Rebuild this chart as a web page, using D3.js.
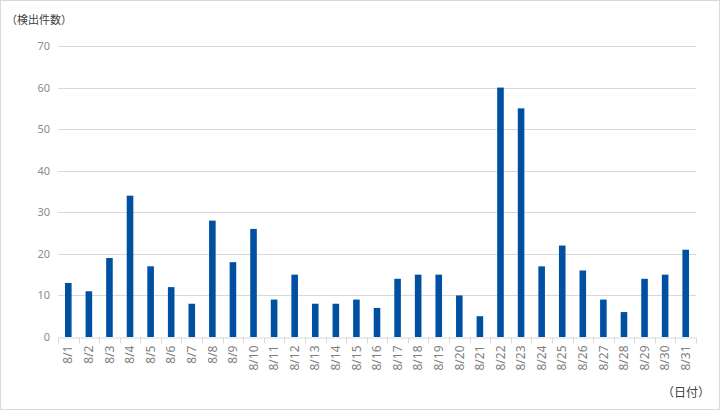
<!DOCTYPE html>
<html>
<head>
<meta charset="utf-8">
<script src="https://cdn.jsdelivr.net/npm/d3@7"></script>
<style>
  body { margin: 0; background: #fff; }
  text { font-family: "Noto Sans CJK JP", "Noto Sans", sans-serif; }
</style>
</head>
<body>
<div id="chart"></div>
<script>
var days = ["8/1","8/2","8/3","8/4","8/5","8/6","8/7","8/8","8/9","8/10",
            "8/11","8/12","8/13","8/14","8/15","8/16","8/17","8/18","8/19","8/20",
            "8/21","8/22","8/23","8/24","8/25","8/26","8/27","8/28","8/29","8/30","8/31"];
var counts = [13, 11, 19, 34, 17, 12, 8, 28, 18, 26,
              9, 15, 8, 8, 9, 7, 14, 15, 15, 10,
              5, 60, 55, 17, 22, 16, 9, 6, 14, 15, 21];
var yTicks = [0, 10, 20, 30, 40, 50, 60, 70];

var W = 720, H = 410;
var margin = {top: 46, right: 24, bottom: 73, left: 58}
  , width = W - margin.left - margin.right
  , height = H - margin.top - margin.bottom;

var svg = d3.select("#chart").append("svg")
    .attr("width", W)
    .attr("height", H);

// outer frame
svg.append("rect")
    .attr("x", 0.5).attr("y", 0.5)
    .attr("width", W - 1).attr("height", H - 1)
    .style("fill", "#fff").style("stroke", "#d9d9d9");

var g = svg.append("g")
    .attr("transform", "translate(" + margin.left + "," + margin.top + ")");

var xScale = d3.scaleBand()
    .domain(days)
    .range([0, width])
    .paddingInner(0.68)
    .paddingOuter(0.34);

var yScale = d3.scaleLinear()
    .domain([0, 70])
    .range([height, 0]);

// gridlines
g.append("g")
    .selectAll("line").data(yTicks.filter(function(d) { return d > 0; })).enter()
    .append("line")
    .attr("x1", 0).attr("x2", width)
    .attr("y1", function(d) { return Math.round(yScale(d)) + 0.5; })
    .attr("y2", function(d) { return Math.round(yScale(d)) + 0.5; })
    .style("stroke", "#d9d9d9");

// y axis labels
var yAxis = g.append("g")
    .call(d3.axisLeft(yScale).tickValues(yTicks).tickSize(0).tickPadding(8));
yAxis.select(".domain").remove();
yAxis.selectAll("text")
    .style("font-family", "'Noto Sans', sans-serif")
    .style("font-size", "11px")
    .style("fill", "#8c8c8c");

// bars
g.selectAll(".bar").data(counts).enter().append("rect")
    .attr("class", "bar")
    .attr("x", function(d, i) { return xScale(days[i]); })
    .attr("width", xScale.bandwidth())
    .attr("y", function(d) { return yScale(d); })
    .attr("height", function(d) { return height - yScale(d); })
    .style("fill", "#0050a2");

// x axis
var step = xScale.step();
var xAxis = g.append("g")
    .attr("transform", "translate(0," + (Math.round(height) + 0.5) + ")")
    .call(d3.axisBottom(xScale).tickSize(0).tickPadding(0));
xAxis.select(".domain").style("stroke", "#d9d9d9");
xAxis.selectAll(".tick line").remove();

// tick marks between categories
var bounds = d3.range(days.length + 1);
xAxis.selectAll(".sep").data(bounds).enter().append("line")
    .attr("class", "sep")
    .attr("x1", function(d) { return Math.round(d * step) + 0.5; })
    .attr("x2", function(d) { return Math.round(d * step) + 0.5; })
    .attr("y1", 0).attr("y2", 6)
    .style("stroke", "#d9d9d9");

xAxis.selectAll(".tick text")
    .attr("transform", "rotate(-90)")
    .attr("text-anchor", "end")
    .attr("x", -8)
    .attr("y", 0)
    .attr("dy", "0.35em")
    .style("font-family", "'Noto Sans', sans-serif")
    .style("font-size", "12px")
    .style("fill", "#7f7f7f");

// axis titles
svg.append("text")
    .attr("x", 6).attr("y", 24)
    .style("font-size", "11px")
    .style("fill", "#404040")
    .text("（検出件数）");

svg.append("text")
    .attr("x", 710).attr("y", 397)
    .attr("text-anchor", "end")
    .style("font-size", "12px")
    .style("fill", "#404040")
    .text("（日付）");
</script>
</body>
</html>
